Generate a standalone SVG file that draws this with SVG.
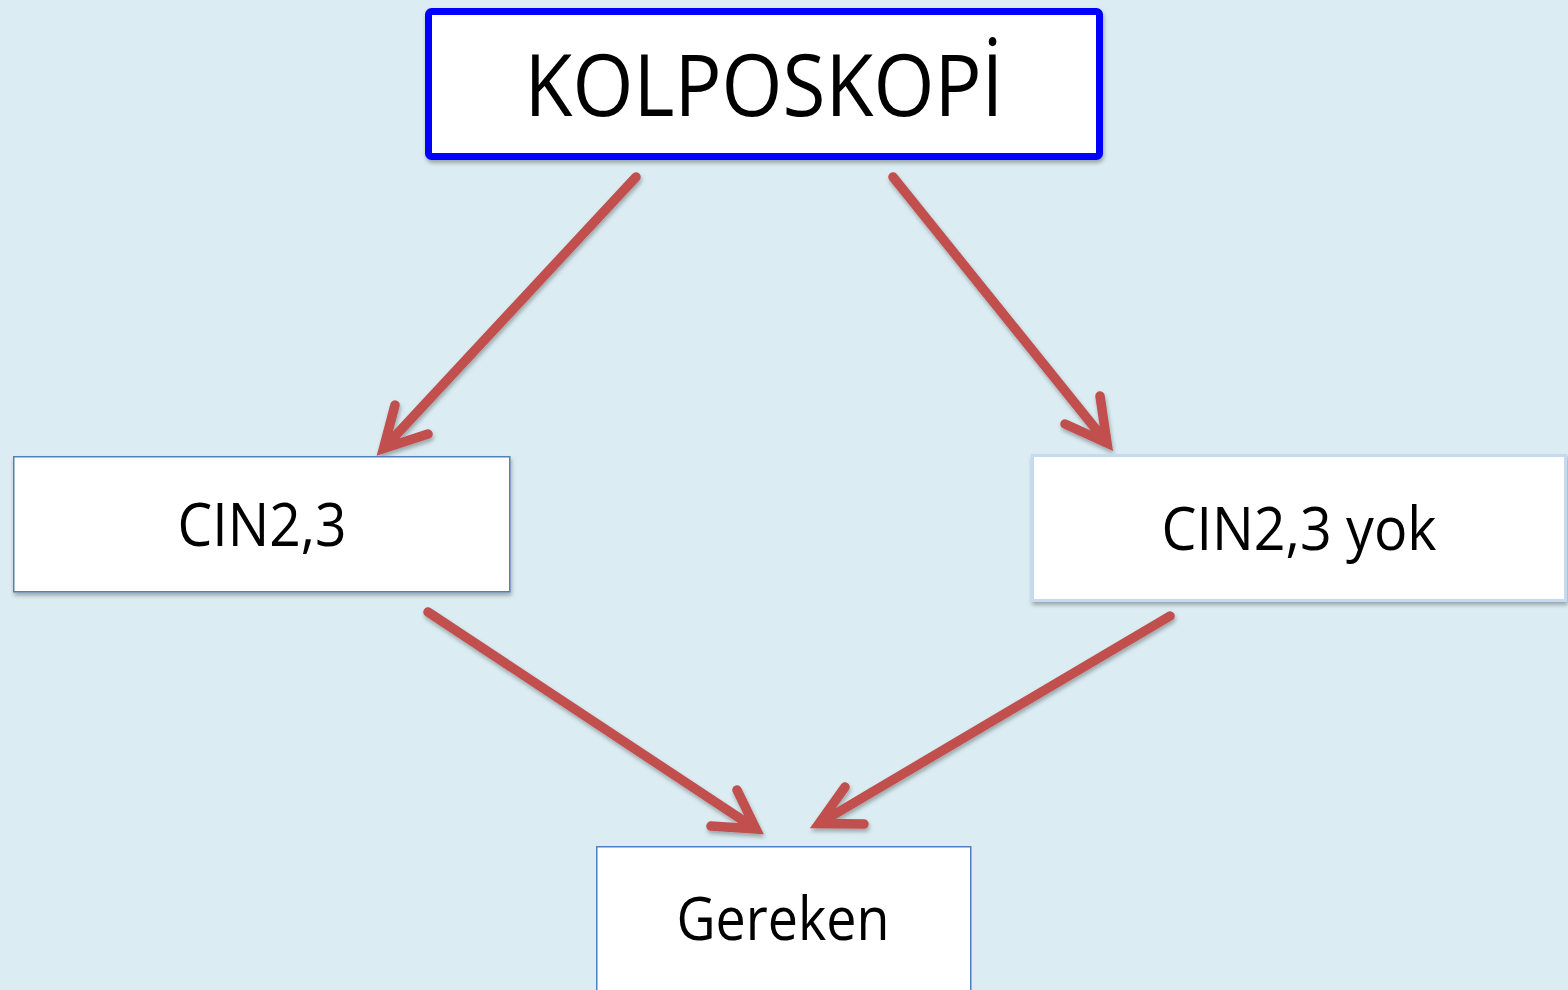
<svg xmlns="http://www.w3.org/2000/svg" width="1568" height="990" viewBox="0 0 1568 990">
<defs>
<style>
.lbl{font-family:"Open Sans","Noto Sans","DejaVu Sans",sans-serif;fill:#000;text-anchor:middle}
.box{fill:#fff}
.thin{stroke:#4F81BD;stroke-width:1.5}
.arr{fill:none;stroke:#C0504D;stroke-width:9.5;stroke-linecap:round;stroke-linejoin:miter}
</style>
<filter id="sh" x="-10%" y="-10%" width="120%" height="130%">
<feDropShadow dx="1" dy="3" stdDeviation="2" flood-color="#000" flood-opacity="0.3"/>
</filter>
</defs>
<rect width="1568" height="990" fill="#DBEDF3"/>
<g id="connectors" filter="url(#sh)">
<path class="arr" d="M636,177 L383.5,448.5 M395,405 L383.5,448.5 L428,434"/>
<path class="arr" d="M893,177 L1107,443 M1100,396 L1107,443 L1065,424"/>
<path class="arr" d="M428,612 L756,829 M737,790 L756,829 L711,826"/>
<path class="arr" d="M1170,616 L819,823.5 M845,787 L819,823.5 L864,824"/>
</g>
<g id="kolposkopi">
<rect x="428.5" y="11.5" width="671" height="145" rx="3" class="box" stroke="#0000FF" stroke-width="7" filter="url(#sh)"/>
<text class="lbl" x="764" y="116" font-size="86" textLength="479" lengthAdjust="spacingAndGlyphs">KOLPOSKOPİ</text>
</g>
<g id="cin23">
<rect x="13.75" y="456.75" width="496" height="135" class="box thin" filter="url(#sh)"/>
<text class="lbl" x="262" y="546" font-size="60" textLength="169" lengthAdjust="spacingAndGlyphs">CIN2,3</text>
</g>
<g id="cin23yok">
<rect x="1032.5" y="455.5" width="533" height="145" class="box" stroke="#C6D9F1" stroke-width="3" filter="url(#sh)"/>
<text class="lbl" x="1299" y="550" font-size="60" textLength="275" lengthAdjust="spacingAndGlyphs">CIN2,3 yok</text>
</g>
<g id="gereken">
<rect x="596.75" y="846.75" width="374" height="160" class="box thin"/>
<text class="lbl" x="783" y="940" font-size="60" textLength="213" lengthAdjust="spacingAndGlyphs">Gereken</text>
</g>
</svg>
